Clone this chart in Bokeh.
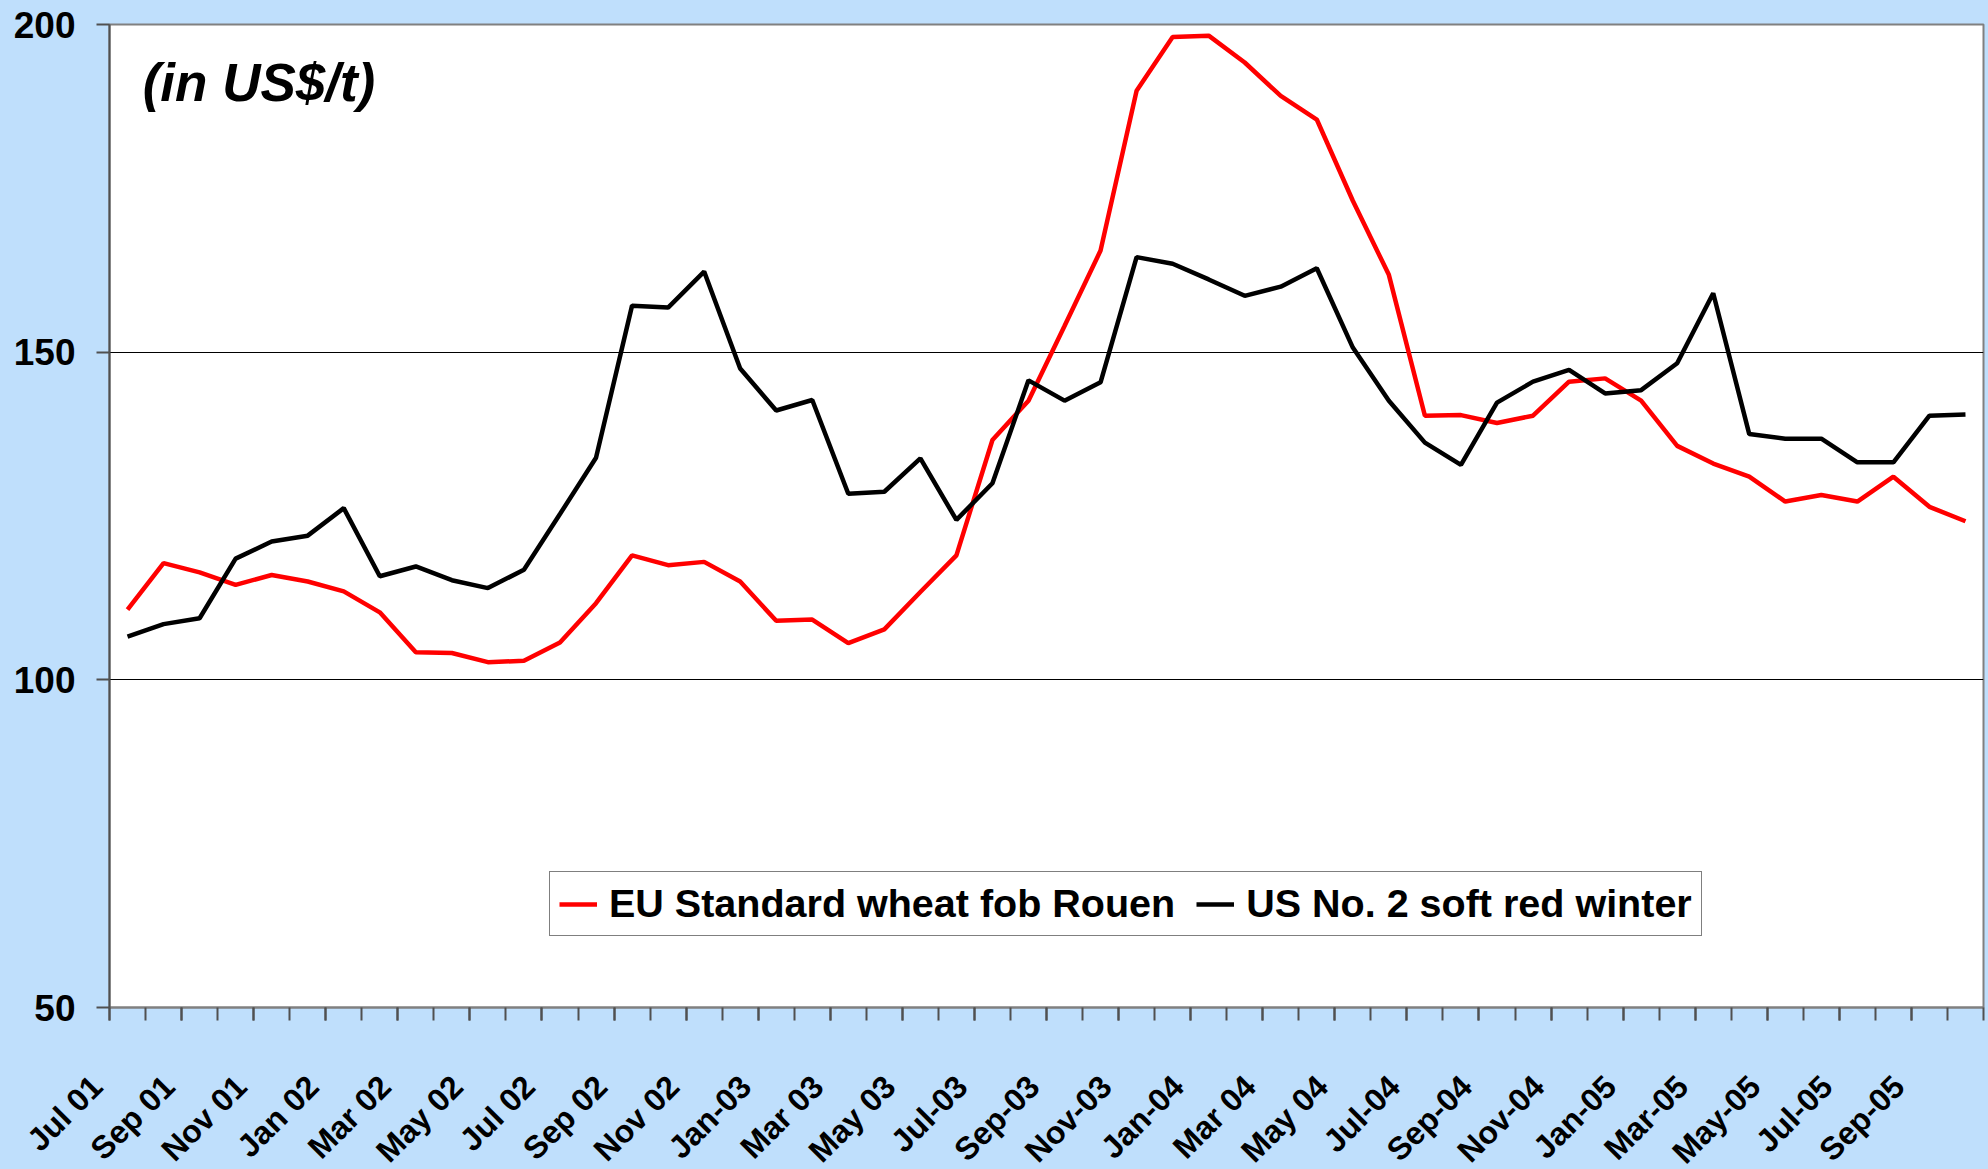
from math import pi
from bokeh.plotting import figure
from bokeh.models import (FixedTicker, Legend, LegendItem, Label, Range1d, GlobalInlineStyleSheet)
from bokeh.embed import file_html
from bokeh.resources import INLINE

# Monthly prices Jul 2001 .. Oct 2005 (US$/t)
tick_labels = ["Jul 01", "Sep 01", "Nov 01", "Jan 02", "Mar 02", "May 02", "Jul 02", "Sep 02",
               "Nov 02", "Jan-03", "Mar 03", "May 03", "Jul-03", "Sep-03", "Nov-03", "Jan-04",
               "Mar 04", "May 04", "Jul-04", "Sep-04", "Nov-04", "Jan-05", "Mar-05", "May-05",
               "Jul-05", "Sep-05"]

eu_rouen = [110.7, 117.8, 116.4, 114.5, 116.0, 115.0, 113.5, 110.3, 104.2, 104.1, 102.7, 102.9,
            105.7, 111.7, 119.0, 117.5, 118.0, 115.0, 109.0, 109.2, 105.6, 107.7, 113.4, 119.0,
            136.6, 142.6, 154.0, 165.5, 189.9, 198.1, 198.3, 194.2, 189.1, 185.5, 173.1, 161.8,
            140.3, 140.4, 139.2, 140.3, 145.5, 146.0, 142.6, 135.7, 133.0, 131.0, 127.2, 128.2,
            127.2, 131.0, 126.4, 124.2]

us_srw = [106.6, 108.5, 109.4, 118.5, 121.1, 122.0, 126.2, 115.8, 117.3, 115.2, 114.0, 116.8,
          125.3, 133.9, 157.1, 156.8, 162.3, 147.5, 141.1, 142.7, 128.4, 128.7, 133.8, 124.4,
          130.0, 145.7, 142.6, 145.4, 164.5, 163.5, 161.1, 158.6, 160.0, 162.8, 150.7, 142.6,
          136.2, 132.8, 142.3, 145.5, 147.3, 143.7, 144.2, 148.3, 159.0, 137.5, 136.8, 136.8,
          133.2, 133.2, 140.3, 140.5]

y_ticks = [50, 100, 150, 200]

n = len(eu_rouen)
xs = [i + 0.5 for i in range(n)]
label_ticks = list(range(0, n, 2))

BG = "#BFDFFC"
FONT = "Liberation Sans"
PAD = "\u00a0\u00a0"  # trailing padding nudges the rotated label ends left, as in Excel

p = figure(frame_width=1874, frame_height=983, x_range=Range1d(0, n), y_range=Range1d(50, 200),
           output_backend="svg", toolbar_location=None,
           min_border_left=109, min_border_right=5, min_border_top=24, min_border_bottom=162)
p.border_fill_color = BG
p.background_fill_color = "white"
p.outline_line_color = "#808080"
p.outline_line_width = 2
p.stylesheets = [GlobalInlineStyleSheet(css="body { background: %s; }" % BG)]

# y axis
p.yaxis.ticker = FixedTicker(ticks=y_ticks, minor_ticks=[])
p.yaxis.major_tick_out = 13
p.yaxis.major_tick_in = 0
p.yaxis.major_tick_line_color = "#505050"
p.yaxis.major_tick_line_width = 2
p.yaxis.axis_line_color = "#505050"
p.yaxis.axis_line_width = 2
p.yaxis.major_label_text_font = FONT
p.yaxis.major_label_text_font_style = "bold"
p.yaxis.major_label_text_font_size = "37px"
p.yaxis.major_label_text_color = "black"
p.yaxis.major_label_standoff = 21

# x axis: ticks at every category boundary, labels every second month
p.xaxis.ticker = FixedTicker(ticks=label_ticks, minor_ticks=list(range(n + 1)))
p.xaxis.major_label_overrides = {t: lab + PAD for t, lab in zip(label_ticks, tick_labels)}
p.xaxis.major_label_orientation = pi / 4
p.xaxis.major_tick_out = 13
p.xaxis.major_tick_in = 0
p.xaxis.minor_tick_out = 13
p.xaxis.minor_tick_in = 0
p.xaxis.major_tick_line_color = "#505050"
p.xaxis.minor_tick_line_color = "#505050"
p.xaxis.major_tick_line_width = 2
p.xaxis.minor_tick_line_width = 2
p.xaxis.axis_line_color = "#808080"
p.xaxis.axis_line_width = 2
p.xaxis.major_label_text_font = FONT
p.xaxis.major_label_text_font_style = "bold"
p.xaxis.major_label_text_font_size = "32px"
p.xaxis.major_label_text_color = "black"
p.xaxis.major_label_standoff = 48

# grid
p.xgrid.visible = False
p.ygrid.ticker = FixedTicker(ticks=y_ticks)
p.ygrid.grid_line_color = "black"
p.ygrid.grid_line_width = 1

r_eu = p.line(xs, eu_rouen, line_color="#FF0000", line_width=4.5)
r_us = p.line(xs, us_srw, line_color="black", line_width=4.5)

legend = Legend(items=[LegendItem(label="EU Standard wheat fob Rouen", renderers=[r_eu]),
                       LegendItem(label="US No. 2 soft red winter", renderers=[r_us])],
                orientation="horizontal", location=(440, 71),
                border_line_color="black", border_line_width=1,
                background_fill_color="white", background_fill_alpha=1,
                label_text_font=FONT, label_text_font_style="bold",
                label_text_font_size="39.5px", label_text_color="black",
                glyph_width=38, glyph_height=30, label_standoff=12,
                spacing=21, padding=9, margin=0)
p.add_layout(legend)

p.add_layout(Label(x=0.92, y=191.2, text="(in US$/t)", text_font=FONT,
                   text_font_style="bold italic", text_font_size="53px",
                   text_color="black", text_baseline="alphabetic"))

open("out.html", "w").write(file_html(p, INLINE))
